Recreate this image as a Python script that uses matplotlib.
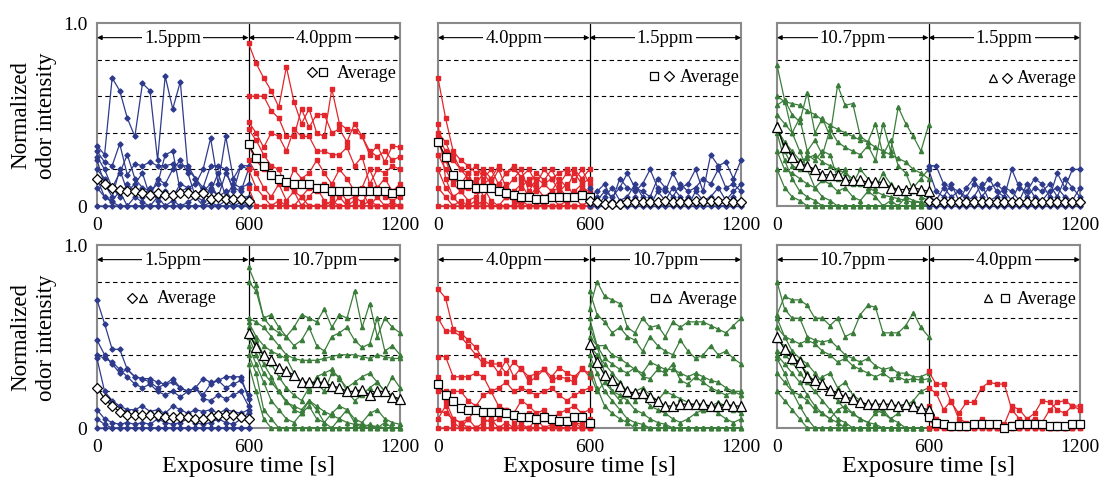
import matplotlib
matplotlib.use("Agg")
import matplotlib.pyplot as plt

plt.rcParams["font.family"] = ["Liberation Serif", "DejaVu Serif"]

# time points of one exposure phase (s)
time_a = [0, 30, 60, 90, 120, 150, 180, 210, 240, 270, 300, 330, 360, 390, 420, 450, 480, 510, 540, 570, 600]
time_b = [600, 630, 660, 690, 720, 750, 780, 810, 840, 870, 900, 930, 960, 990, 1020, 1050, 1080, 1110, 1140, 1170, 1200]

# values in hundredths of normalized odor intensity
# ---- panel 1: 1.5ppm -> 4.0ppm
p1_a_lines = [
    [33, 28, 70, 63, 48, 38, 67, 63, 25, 71, 53, 68, 20, 15, 8, 12, 5, 18, 10, 8, 20],
    [30, 24, 22, 34, 17, 23, 22, 24, 22, 22, 23, 22, 22, 15, 10, 22, 22, 20, 8, 22, 22],
    [27, 20, 10, 18, 28, 15, 10, 8, 12, 28, 30, 8, 10, 12, 20, 37, 12, 38, 15, 22, 20],
    [25, 12, 5, 20, 8, 12, 18, 5, 15, 12, 20, 25, 18, 5, 10, 8, 18, 5, 12, 10, 12],
    [20, 15, 10, 5, 12, 8, 5, 10, 3, 8, 5, 12, 10, 5, 3, 10, 5, 8, 3, 5, 5],
    [15, 5, 3, 8, 0, 5, 2, 0, 5, 0, 3, 0, 2, 5, 0, 2, 0, 3, 0, 2, 0],
    [10, 5, 2, 0, 0, 0, 0, 0, 0, 0, 0, 0, 0, 0, 0, 0, 0, 0, 0, 0, 0],
    [0, 0, 0, 0, 0, 0, 0, 0, 0, 0, 0, 0, 0, 0, 0, 0, 0, 0, 0, 0, 0],
]
p1_a_avg = [15, 12, 10, 9, 8, 8, 7, 6, 7, 6, 6, 7, 7, 6, 7, 4, 5, 4, 4, 4, 3]
p1_b_lines = [
    [89, 78, 70, 63, 54, 76, 57, 45, 53, 40, 38, 64, 45, 42, 41, 38, 28, 33, 24, 33, 32],
    [60, 60, 60, 52, 48, 38, 38, 53, 43, 50, 50, 40, 42, 35, 45, 38, 30, 27, 30, 25, 27],
    [46, 40, 32, 40, 38, 30, 42, 38, 38, 30, 30, 28, 28, 32, 22, 27, 12, 20, 18, 22, 20],
    [42, 36, 28, 22, 20, 10, 20, 15, 18, 25, 18, 12, 20, 15, 8, 10, 20, 10, 15, 8, 12],
    [33, 25, 20, 18, 15, 12, 8, 5, 10, 8, 12, 5, 8, 3, 5, 2, 8, 10, 5, 3, 5],
    [25, 18, 10, 5, 12, 3, 8, 0, 5, 10, 3, 0, 5, 0, 3, 8, 0, 5, 0, 2, 0],
    [20, 10, 5, 0, 3, 0, 0, 5, 0, 0, 0, 3, 0, 0, 0, 0, 3, 0, 0, 0, 0],
    [10, 0, 0, 0, 0, 0, 0, 0, 0, 0, 0, 0, 0, 0, 0, 0, 0, 0, 0, 0, 0],
]
p1_b_avg = [34, 26, 22, 17, 15, 13, 12, 12, 12, 10, 10, 8, 8, 8, 8, 8, 8, 8, 8, 7, 8]

# ---- panel 2: 4.0ppm -> 1.5ppm
p2_a_lines = [
    [70, 48, 30, 25, 22, 18, 20, 15, 22, 18, 20, 16, 20, 12, 20, 15, 18, 20, 14, 20, 12],
    [40, 35, 25, 20, 18, 22, 15, 20, 12, 18, 22, 15, 12, 18, 14, 20, 12, 18, 20, 15, 20],
    [38, 30, 28, 20, 15, 12, 18, 12, 20, 10, 15, 20, 8, 15, 12, 8, 15, 10, 18, 12, 15],
    [35, 25, 15, 12, 18, 8, 12, 15, 8, 12, 5, 10, 15, 8, 12, 15, 8, 12, 5, 10, 8],
    [28, 20, 12, 8, 10, 15, 5, 10, 12, 5, 8, 12, 5, 10, 5, 8, 10, 5, 8, 12, 5],
    [20, 10, 5, 8, 3, 5, 10, 3, 0, 5, 3, 0, 5, 3, 0, 5, 0, 3, 5, 0, 3],
    [45, 15, 5, 0, 0, 3, 0, 0, 0, 0, 0, 3, 0, 0, 0, 0, 0, 0, 0, 0, 0],
    [10, 5, 0, 3, 0, 0, 3, 0, 0, 0, 0, 0, 0, 0, 0, 0, 0, 0, 0, 0, 0],
    [0, 0, 0, 0, 0, 0, 0, 0, 0, 0, 0, 0, 0, 0, 0, 0, 0, 0, 0, 0, 0],
]
p2_a_avg = [35, 27, 17, 12, 12, 10, 10, 10, 8, 7, 6, 5, 5, 4, 4, 5, 5, 5, 5, 6, 5]
p2_b_lines = [
    [5, 8, 12, 3, 15, 10, 8, 12, 20, 10, 8, 18, 10, 12, 20, 8, 28, 22, 24, 15, 25],
    [10, 3, 8, 5, 10, 18, 10, 8, 5, 15, 10, 5, 12, 8, 10, 15, 12, 20, 10, 12, 8],
    [3, 0, 5, 10, 3, 5, 12, 5, 0, 8, 3, 10, 5, 0, 8, 3, 5, 10, 3, 8, 12],
    [0, 5, 0, 3, 0, 0, 5, 0, 3, 0, 0, 3, 0, 5, 0, 0, 3, 0, 0, 5, 0],
    [0, 0, 0, 0, 0, 0, 0, 0, 0, 0, 0, 0, 0, 0, 0, 0, 0, 0, 0, 0, 0],
]
p2_b_avg = [3, 2, 1, 1, 1, 2, 2, 2, 2, 2, 3, 2, 2, 2, 3, 3, 3, 3, 3, 2, 2]

# ---- panel 3: 10.7ppm -> 1.5ppm
p3_a_lines = [
    [77, 58, 40, 30, 20, 10, 5, 3, 0, 0, 0, 0, 0, 0, 0, 0, 0, 0, 0, 0, 0],
    [60, 57, 56, 55, 52, 50, 47, 44, 42, 40, 38, 36, 35, 32, 30, 28, 26, 24, 20, 18, 15],
    [55, 58, 50, 46, 62, 40, 48, 38, 66, 55, 56, 38, 35, 45, 28, 36, 22, 18, 8, 5, 3],
    [50, 45, 40, 48, 30, 36, 28, 42, 35, 32, 30, 28, 33, 25, 45, 30, 54, 45, 38, 30, 44],
    [45, 30, 22, 20, 28, 25, 30, 28, 15, 20, 12, 20, 15, 10, 18, 12, 8, 5, 3, 2, 0],
    [40, 25, 15, 8, 5, 3, 0, 0, 0, 0, 0, 0, 0, 0, 0, 0, 0, 0, 0, 0, 0],
    [30, 20, 18, 15, 12, 10, 14, 12, 8, 10, 5, 3, 8, 5, 0, 3, 0, 5, 10, 15, 20],
    [20, 10, 5, 3, 0, 0, 0, 0, 0, 0, 0, 0, 0, 0, 0, 0, 0, 0, 0, 0, 0],
    [42, 35, 30, 25, 26, 28, 24, 22, 20, 18, 15, 12, 10, 8, 6, 5, 4, 3, 2, 2, 2],
]
p3_a_avg = [43, 32, 27, 23, 22, 20, 17, 17, 17, 14, 14, 14, 13, 13, 13, 10, 9, 9, 10, 9, 8]
p3_b_lines = [
    [22, 22, 12, 10, 8, 5, 12, 10, 15, 8, 5, 20, 10, 8, 15, 12, 5, 18, 10, 20, 20],
    [20, 8, 5, 12, 3, 10, 15, 5, 10, 12, 8, 3, 12, 5, 10, 8, 12, 5, 15, 10, 5],
    [5, 3, 10, 5, 8, 3, 5, 12, 3, 5, 10, 8, 3, 12, 5, 3, 8, 10, 5, 3, 10],
    [0, 2, 0, 3, 0, 0, 2, 0, 0, 3, 0, 0, 2, 0, 0, 0, 3, 0, 0, 2, 0],
    [0, 0, 0, 0, 0, 0, 0, 0, 0, 0, 0, 0, 0, 0, 0, 0, 0, 0, 0, 0, 0],
]
p3_b_avg = [3, 2, 2, 2, 2, 2, 2, 2, 2, 2, 2, 2, 2, 2, 2, 2, 2, 2, 2, 2, 2]

# ---- panel 4: 1.5ppm -> 10.7ppm
p4_a_lines = [
    [70, 57, 43, 43, 32, 28, 27, 27, 25, 24, 27, 22, 20, 22, 27, 25, 26, 28, 28, 28, 16],
    [48, 40, 35, 30, 32, 28, 27, 25, 22, 24, 25, 22, 20, 22, 18, 24, 26, 22, 24, 26, 18],
    [40, 38, 36, 32, 28, 24, 22, 24, 20, 18, 20, 17, 20, 22, 16, 15, 18, 16, 18, 20, 12],
    [38, 20, 15, 12, 10, 10, 12, 9, 10, 8, 12, 10, 8, 10, 9, 10, 8, 10, 9, 8, 10],
    [10, 5, 3, 2, 3, 2, 3, 2, 5, 3, 2, 3, 5, 3, 2, 3, 5, 3, 2, 5, 8],
    [5, 2, 0, 0, 0, 0, 0, 0, 0, 0, 0, 0, 0, 0, 0, 0, 0, 0, 0, 0, 0],
    [0, 0, 0, 0, 0, 0, 0, 0, 0, 0, 0, 0, 0, 0, 0, 0, 0, 0, 0, 0, 0],
]
p4_a_avg = [22, 16, 12, 9, 7, 7, 7, 7, 7, 6, 6, 6, 6, 5, 5, 6, 7, 7, 7, 6, 5]
p4_b_lines = [
    [88, 78, 60, 55, 52, 50, 55, 62, 60, 58, 65, 55, 62, 60, 75, 55, 68, 50, 60, 55, 52],
    [80, 75, 60, 62, 55, 50, 45, 48, 55, 45, 42, 50, 52, 55, 48, 44, 46, 60, 42, 45, 40],
    [60, 58, 55, 50, 45, 40, 38, 37, 37, 37, 38, 39, 40, 40, 40, 39, 38, 40, 39, 38, 38],
    [58, 50, 45, 42, 40, 38, 30, 25, 20, 28, 30, 32, 27, 22, 25, 28, 30, 25, 20, 28, 22],
    [55, 48, 40, 35, 28, 22, 18, 15, 22, 25, 20, 30, 28, 20, 15, 18, 22, 25, 20, 18, 15],
    [52, 45, 35, 28, 20, 15, 10, 8, 12, 5, 3, 8, 12, 10, 5, 3, 8, 10, 5, 3, 2],
    [45, 35, 25, 15, 10, 5, 3, 8, 15, 10, 3, 0, 5, 10, 3, 0, 2, 0, 3, 0, 0],
    [40, 30, 10, 5, 0, 0, 0, 0, 0, 0, 0, 0, 0, 0, 0, 0, 0, 0, 0, 0, 0],
    [35, 20, 5, 0, 0, 0, 0, 0, 0, 0, 0, 0, 0, 0, 0, 0, 0, 0, 0, 0, 0],
    [50, 40, 30, 25, 20, 14, 12, 10, 15, 12, 9, 7, 5, 3, 2, 2, 1, 1, 0, 0, 0],
]
p4_b_avg = [52, 44, 40, 37, 33, 31, 29, 25, 25, 25, 25, 23, 22, 20, 20, 21, 18, 20, 20, 17, 16]

# ---- panel 5: 4.0ppm -> 10.7ppm
p5_a_lines = [
    [76, 71, 54, 52, 48, 44, 37, 35, 35, 30, 36, 32, 28, 30, 32, 28, 33, 30, 28, 32, 30],
    [60, 53, 53, 50, 45, 40, 35, 36, 30, 37, 28, 33, 25, 28, 32, 26, 28, 27, 25, 33, 28],
    [39, 39, 28, 28, 28, 30, 28, 20, 22, 25, 20, 22, 20, 18, 20, 22, 18, 15, 18, 20, 22],
    [20, 20, 20, 20, 15, 12, 18, 20, 12, 10, 8, 15, 12, 8, 10, 5, 8, 10, 12, 8, 10],
    [10, 8, 5, 3, 5, 10, 5, 3, 5, 10, 3, 5, 8, 3, 5, 2, 3, 5, 3, 2, 5],
    [5, 12, 3, 0, 5, 0, 3, 5, 0, 3, 0, 2, 0, 5, 0, 2, 0, 0, 3, 0, 0],
    [28, 15, 5, 3, 0, 0, 0, 0, 0, 0, 0, 0, 0, 0, 0, 0, 0, 0, 0, 0, 0],
    [0, 0, 0, 0, 0, 0, 0, 0, 0, 0, 0, 0, 0, 0, 0, 0, 0, 0, 0, 0, 0],
]
p5_a_avg = [24, 18, 15, 11, 10, 10, 9, 9, 9, 8, 7, 6, 6, 5, 6, 5, 4, 4, 6, 6, 3]
p5_b_lines = [
    [65, 80, 72, 70, 68, 55, 52, 60, 55, 56, 50, 58, 55, 58, 58, 58, 56, 54, 52, 56, 60],
    [75, 62, 58, 52, 55, 50, 48, 42, 50, 45, 42, 40, 48, 42, 38, 40, 45, 40, 42, 38, 35],
    [55, 45, 45, 40, 38, 35, 32, 30, 36, 34, 32, 32, 30, 28, 30, 28, 26, 25, 22, 20, 20],
    [50, 45, 38, 35, 32, 30, 33, 28, 27, 32, 30, 35, 26, 24, 28, 25, 22, 20, 18, 20, 18],
    [45, 40, 35, 30, 25, 20, 15, 18, 12, 10, 8, 5, 3, 5, 8, 10, 12, 8, 5, 3, 5],
    [60, 45, 30, 20, 18, 15, 10, 8, 5, 3, 2, 0, 0, 0, 0, 0, 0, 0, 0, 0, 0],
    [40, 30, 20, 15, 10, 5, 3, 2, 0, 0, 0, 0, 0, 0, 0, 0, 0, 0, 0, 0, 0],
    [35, 22, 12, 8, 5, 3, 0, 0, 0, 0, 0, 0, 0, 0, 0, 0, 0, 0, 0, 0, 0],
    [30, 20, 25, 20, 15, 18, 20, 22, 18, 15, 20, 18, 16, 14, 12, 10, 12, 14, 12, 10, 8],
]
p5_b_avg = [46, 36, 29, 26, 23, 20, 19, 19, 17, 15, 12, 12, 13, 13, 13, 13, 12, 12, 13, 12, 12]

# ---- panel 6: 10.7ppm -> 4.0ppm
p6_a_lines = [
    [62, 72, 70, 70, 67, 60, 60, 56, 60, 50, 52, 62, 67, 66, 52, 52, 52, 56, 63, 55, 50],
    [80, 65, 60, 60, 50, 48, 47, 48, 44, 40, 38, 36, 38, 34, 32, 33, 30, 30, 28, 28, 30],
    [55, 50, 48, 46, 48, 46, 42, 40, 36, 38, 34, 32, 30, 28, 30, 27, 28, 26, 27, 26, 27],
    [48, 45, 40, 35, 30, 25, 28, 30, 22, 25, 18, 15, 12, 10, 8, 5, 8, 12, 15, 20, 22],
    [42, 40, 36, 30, 25, 20, 15, 10, 5, 3, 0, 0, 0, 0, 0, 0, 0, 0, 0, 0, 0],
    [40, 35, 30, 25, 18, 12, 8, 5, 3, 0, 0, 0, 0, 0, 0, 0, 0, 0, 0, 0, 0],
    [38, 30, 20, 12, 5, 0, 0, 0, 0, 0, 0, 0, 0, 0, 0, 0, 0, 0, 0, 0, 0],
    [30, 25, 20, 18, 15, 10, 8, 5, 10, 12, 8, 5, 3, 8, 10, 5, 3, 0, 0, 0, 0],
    [20, 15, 10, 5, 0, 0, 0, 0, 0, 0, 0, 0, 0, 0, 0, 0, 0, 0, 0, 0, 0],
    [60, 50, 42, 38, 35, 30, 25, 20, 15, 10, 8, 5, 3, 2, 0, 0, 0, 0, 0, 0, 0],
]
p6_a_avg = [50, 43, 38, 36, 28, 26, 24, 21, 19, 17, 16, 14, 13, 13, 13, 13, 12, 13, 12, 11, 10]
p6_b_lines = [
    [31, 24, 24, 14, 8, 14, 14, 22, 25, 24, 24, 10, 5, 3, 5, 3, 10, 14, 15, 12, 10],
    [22, 19, 10, 15, 5, 3, 2, 5, 3, 3, 2, 12, 10, 5, 8, 15, 14, 10, 8, 12, 12],
    [12, 5, 3, 0, 2, 0, 0, 3, 0, 0, 0, 2, 0, 3, 0, 0, 0, 2, 0, 0, 3],
    [5, 0, 0, 0, 0, 0, 0, 0, 0, 0, 0, 0, 0, 0, 0, 0, 0, 0, 0, 0, 0],
    [0, 0, 0, 0, 0, 0, 0, 0, 0, 0, 0, 0, 0, 0, 0, 0, 0, 0, 0, 0, 0],
]
p6_b_avg = [6, 3, 2, 1, 1, 1, 2, 2, 2, 2, 0, 1, 2, 2, 2, 2, 1, 1, 1, 2, 2]

# concentration styles
BLUE = "#2E3B8C"
RED = "#E3262B"
GREEN = "#3A7D3A"
styles = {
    "1.5ppm": dict(color=BLUE, marker="D", ms=2.6, avg_marker="D", avg_ms=5.5),
    "4.0ppm": dict(color=RED, marker="s", ms=3.4, avg_marker="s", avg_ms=6.0),
    "10.7ppm": dict(color=GREEN, marker="^", ms=3.0, avg_marker="^", avg_ms=6.5),
}

panels = [
    ("1.5ppm", "4.0ppm", p1_a_lines, p1_b_lines, p1_a_avg, p1_b_avg, (0.71, 0.745, 0.79, 0.73)),
    ("4.0ppm", "1.5ppm", p2_a_lines, p2_b_lines, p2_a_avg, p2_b_avg, (0.713, 0.763, 0.797, 0.71)),
    ("10.7ppm", "1.5ppm", p3_a_lines, p3_b_lines, p3_a_avg, p3_b_avg, (0.713, 0.76, 0.792, 0.70)),
    ("1.5ppm", "10.7ppm", p4_a_lines, p4_b_lines, p4_a_avg, p4_b_avg, (0.115, 0.151, 0.197, 0.713)),
    ("4.0ppm", "10.7ppm", p5_a_lines, p5_b_lines, p5_a_avg, p5_b_avg, (0.717, 0.757, 0.793, 0.71)),
    ("10.7ppm", "4.0ppm", p6_a_lines, p6_b_lines, p6_a_avg, p6_b_avg, (0.696, 0.752, 0.792, 0.71)),
]

W, H = 1101, 481
lefts = [97, 438, 777]
boxes = [(l, 207) for l in lefts] + [(l, 429) for l in lefts]

fig = plt.figure(figsize=(W / 100, H / 100), dpi=100)

for i, (conc_a, conc_b, lines_a, lines_b, avg_a, avg_b, leg) in enumerate(panels):
    lx, by = boxes[i]
    ax = fig.add_axes([lx / W, (H - by) / H, 303 / W, 183 / H])
    ax.set_xlim(0, 1200)
    ax.set_ylim(0, 1.0)

    for y in [0.2, 0.4, 0.6, 0.8]:
        ax.axhline(y, color="black", lw=0.8, ls=(0, (4, 3)), zorder=1)
    ax.axvline(600, color="black", lw=0.9, zorder=2)

    for t, lines, conc in [(time_a, lines_a, conc_a), (time_b, lines_b, conc_b)]:
        st = styles[conc]
        for ln in lines:
            ax.plot(t, [v / 100 for v in ln], color=st["color"], lw=0.9,
                    marker=st["marker"], ms=st["ms"], mec=st["color"], clip_on=False, zorder=3)

    for t, avg, conc in [(time_a, avg_a, conc_a), (time_b, avg_b, conc_b)]:
        st = styles[conc]
        ax.plot(t, [v / 100 for v in avg], color="black", lw=0.9, marker=st["avg_marker"],
                ms=st["avg_ms"], mfc="white", mec="black", mew=0.9, clip_on=False, zorder=5)

    # concentration arrows at the top
    for x0, x1, conc in [(0, 600, conc_a), (600, 1200, conc_b)]:
        ax.annotate("", xy=(x0, 0.92), xytext=(x1, 0.92),
                    arrowprops=dict(arrowstyle="<|-|>", color="black", lw=0.8,
                                    mutation_scale=7, shrinkA=0, shrinkB=0), zorder=4)
        ax.text((x0 + x1) / 2, 0.92, conc, ha="center", va="center", fontsize=13.5,
                bbox=dict(facecolor="white", edgecolor="none", pad=1.5), zorder=6)

    # average legend
    m1x, m2x, tx, ly = leg
    ax.plot([m1x], [ly], transform=ax.transAxes, marker=styles[conc_a]["avg_marker"],
            ms=styles[conc_a]["avg_ms"] - 0.5, mfc="white", mec="black", mew=0.9, ls="none", clip_on=False)
    ax.plot([m2x], [ly], transform=ax.transAxes, marker=styles[conc_b]["avg_marker"],
            ms=styles[conc_b]["avg_ms"] - 0.5, mfc="white", mec="black", mew=0.9, ls="none", clip_on=False)
    ax.text(tx, ly, "Average", transform=ax.transAxes, ha="left", va="center", fontsize=13)

    for s in ax.spines.values():
        s.set_color("#8a8a8a")
        s.set_linewidth(1.5)

    ax.set_xticks([0, 600, 1200])
    ax.set_xticklabels(["0", "600", "1200"])
    ax.tick_params(length=0, labelsize=14, pad=7)
    if i % 3 == 0:
        ax.set_yticks([0, 1.0])
        ax.set_yticklabels(["0", "1.0"])
        ax.set_ylabel("Normalized\nodor intensity", fontsize=16.5, linespacing=1.3, labelpad=4)
    else:
        ax.set_yticks([])
    if i >= 3:
        ax.set_xlabel("Exposure time [s]", fontsize=17.5, labelpad=0)

fig.savefig("out.png", dpi=100)
